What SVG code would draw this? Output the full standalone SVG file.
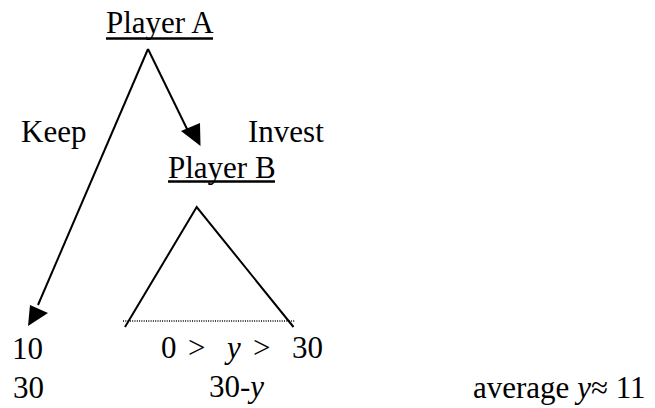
<svg xmlns="http://www.w3.org/2000/svg" width="655" height="408" viewBox="0 0 655 408">
<style>
.t{font-family:'Liberation Serif','Times New Roman',serif;font-size:31px;fill:#000}
.i{font-style:italic}
.ln{stroke:#000;stroke-width:2;fill:none}
.ul{stroke:#000;stroke-width:2.5}
.dot{stroke:#000;stroke-width:1.5;stroke-dasharray:1 1.3;fill:none}
.ah{fill:#000;stroke:none}
</style>
<rect width="655" height="408" fill="#fff"/>
<g id="playerA">
<text class="t" x="106" y="33">Player A</text>
<line class="ul" x1="106" y1="38.5" x2="213" y2="38.5"/>
</g>
<g id="playerB">
<text class="t" x="168" y="178">Player B</text>
<line class="ul" x1="168" y1="181.5" x2="275" y2="181.5"/>
<polyline class="ln" points="125,327 196.7,207 293.5,327"/>
<line class="dot" x1="123" y1="321" x2="295" y2="321"/>
</g>
<g id="connectors">
<line class="ln" x1="148" y1="49" x2="38" y2="305"/>
<polygon class="ah" points="30,305 48,313 28,326"/>
<line class="ln" x1="148" y1="49" x2="188" y2="131"/>
<polygon class="ah" points="181,131 200,123 200.5,146"/>
</g>
<g id="labels">
<text class="t" x="21" y="142">Keep</text>
<text class="t" x="248" y="142">Invest</text>
</g>
<g id="payoffKeep">
<text class="t" x="12" y="359">10</text>
<text class="t" x="13" y="398">30</text>
</g>
<g id="payoffInvest">
<text class="t" y="358"><tspan x="161">0</tspan><tspan x="188">&gt;</tspan><tspan x="227" class="i">y</tspan><tspan x="253">&gt;</tspan><tspan x="292">30</tspan></text>
<text class="t" x="209" y="397">30-<tspan class="i">y</tspan></text>
</g>
<g id="average">
<text class="t" x="473" y="398">average <tspan class="i">y</tspan>≈ 11</text>
</g>
</svg>
